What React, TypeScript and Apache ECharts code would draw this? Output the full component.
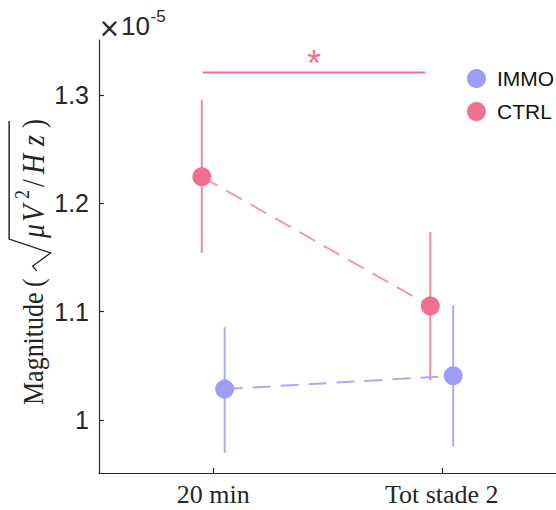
import React, { useEffect, useRef } from "react";
import * as echarts from "echarts";

const categories = ["20 min", "Tot stade 2"];
const categoryPositions = [1, 2];
const groupOffset = 0.05;
const yTickValues = [1, 1.1, 1.2, 1.3];
const yExponent = "-5";

const immoMean = [1.0285, 1.0408];
const immoLow = [0.9697, 0.9753];
const immoHigh = [1.0858, 1.1061];

const ctrlMean = [1.2246, 1.1052];
const ctrlLow = [1.1544, 1.0368];
const ctrlHigh = [1.2954, 1.1738];

const sigFrom = [0.954];
const sigTo = [1.927];
const sigLevel = [1.321];
const sigMark = ["*"];

const INK = "#262626";
const CTRL_MARK = "#F2708F";
const CTRL_ERR = "#F3889F";
const CTRL_DASH = "#F597AE";
const IMMO_MARK = "#9D9DF5";
const IMMO_ERR = "#ABABF6";
const IMMO_DASH = "#ABABF6";
const SERIF = "Liberation Serif";
const SANS = "Liberation Sans";

function errorBar(color: string) {
  return (_params: any, api: any) => {
    const top = api.coord([api.value(0), api.value(2)]);
    const bot = api.coord([api.value(0), api.value(1)]);
    return {
      type: "line",
      shape: { x1: top[0], y1: top[1], x2: bot[0], y2: bot[1] },
      style: { stroke: color, lineWidth: 2 },
    };
  };
}

function txt(text: string, x: number, y: number, size: number, family: string, italic = false, color = INK, align = "left") {
  return {
    type: "text",
    x,
    y,
    style: {
      text,
      fontSize: size,
      fontFamily: family,
      fontStyle: italic ? "italic" : "normal",
      fill: color,
      align,
      verticalAlign: "middle",
      textAlign: align,
      textVerticalAlign: "middle",
    },
  };
}

export default function App() {
  const ref = useRef<HTMLDivElement>(null);
  useEffect(() => {
    const chart = echarts.init(ref.current!, null, { renderer: "svg" });
    const immoPts = categoryPositions.map((c, i) => [c + groupOffset, immoMean[i]]);
    const ctrlPts = categoryPositions.map((c, i) => [c - groupOffset, ctrlMean[i]]);
    const immoErr = categoryPositions.map((c, i) => [c + groupOffset, immoLow[i], immoHigh[i]]);
    const ctrlErr = categoryPositions.map((c, i) => [c - groupOffset, ctrlLow[i], ctrlHigh[i]]);
    const sigData = sigFrom.map((f, i) => [f, sigTo[i], sigLevel[i]]);

    const option: any = {
      animation: false,
      backgroundColor: "#ffffff",
      grid: { left: 99, top: 40, right: 0, bottom: 37 },
      xAxis: {
        type: "value",
        min: 0.5,
        max: 2.5,
        axisLine: { show: true, onZero: false, lineStyle: { color: INK, width: 1.2 } },
        axisTick: {
          show: true,
          inside: true,
          length: 5,
          customValues: categoryPositions,
          lineStyle: { color: INK, width: 1.2 },
        },
        axisLabel: {
          customValues: categoryPositions,
          formatter: (v: number) => {
            const idx = categoryPositions.indexOf(Math.round(v));
            return idx >= 0 ? categories[idx] : "";
          },
          fontFamily: SERIF,
          fontSize: 26,
          color: INK,
          margin: 8,
        },
        splitLine: { show: false },
      },
      yAxis: {
        type: "value",
        min: 0.951,
        max: 1.351,
        axisLine: { show: true, onZero: false, lineStyle: { color: INK, width: 1.2 } },
        axisTick: {
          show: true,
          inside: true,
          length: 5,
          customValues: yTickValues,
          lineStyle: { color: INK, width: 1.2 },
        },
        axisLabel: {
          customValues: yTickValues,
          formatter: (v: number) => String(+v.toFixed(1)),
          fontFamily: SANS,
          fontSize: 25,
          color: INK,
          margin: 10,
        },
        splitLine: { show: false },
      },
      legend: {
        data: [
          { name: "IMMO", icon: "circle" },
          { name: "CTRL", icon: "circle" },
        ],
        orient: "vertical",
        left: 467,
        top: 68,
        padding: 0,
        itemWidth: 19,
        itemHeight: 19,
        itemGap: 12,
        textStyle: { fontFamily: SANS, fontSize: 21, color: "#111", padding: [0, 0, 0, 6] },
      },
      series: [
        {
          name: "CTRL_err",
          type: "custom",
          data: ctrlErr,
          encode: { x: 0, y: [1, 2] },
          renderItem: errorBar(CTRL_ERR),
          z: 1,
          silent: true,
        },
        {
          name: "IMMO_err",
          type: "custom",
          data: immoErr,
          encode: { x: 0, y: [1, 2] },
          renderItem: errorBar(IMMO_ERR),
          z: 1,
          silent: true,
        },
        {
          name: "IMMO",
          type: "line",
          data: immoPts,
          symbol: "circle",
          symbolSize: 19,
          itemStyle: { color: IMMO_MARK },
          lineStyle: { color: IMMO_DASH, width: 2, type: [18, 10] },
          z: 3,
        },
        {
          name: "CTRL",
          type: "line",
          data: ctrlPts,
          symbol: "circle",
          symbolSize: 19,
          itemStyle: { color: CTRL_MARK },
          lineStyle: { color: CTRL_DASH, width: 2, type: [18, 10] },
          z: 3,
        },
        {
          name: "significance",
          type: "custom",
          data: sigData,
          encode: { x: [0, 1], y: 2 },
          silent: true,
          renderItem: (params: any, api: any) => {
            const a = api.coord([api.value(0), api.value(2)]);
            const b = api.coord([api.value(1), api.value(2)]);
            return {
              type: "group",
              children: [
                {
                  type: "line",
                  shape: { x1: a[0], y1: a[1], x2: b[0], y2: b[1] },
                  style: { stroke: CTRL_MARK, lineWidth: 2 },
                },
                {
                  type: "text",
                  x: (a[0] + b[0]) / 2,
                  y: a[1] - 9,
                  style: {
                    text: sigMark[params.dataIndex],
                    fontSize: 36,
                    fontFamily: SANS,
                    fill: CTRL_MARK,
                    align: "center",
                    verticalAlign: "middle",
                  },
                },
              ],
            };
          },
        },
      ],
      graphic: [
        {
          type: "group",
          x: 31,
          y: 405,
          rotation: Math.PI / 2,
          scaleY: 1.15,
          children: [
            txt("Magnitude", 0, 2, 26, SERIF),
            txt("(", 118, 2, 26, SERIF),
            {
              type: "polyline",
              shape: { points: [[134, 5], [139, 1.5], [152, 17], [166, -19], [284, -19]] },
              style: { stroke: INK, lineWidth: 1.3, fill: null },
            },
            txt("μ", 167, 2, 28, SERIF, true),
            txt("V", 183, 2, 28, SERIF, true),
            txt("2", 206, -8, 18, SERIF),
            txt("/", 218, 2, 28, SERIF),
            txt("H", 231, 2, 28, SERIF, true),
            txt("z", 259, 2, 28, SERIF, true),
            txt(")", 277, 2, 27, SERIF),
          ],
        },
        txt("×", 109.5, 28, 26, "DejaVu Sans", false, INK, "center"),
        txt("10", 121, 26, 26, SANS),
        txt(yExponent, 150.5, 16, 17, SANS),
      ],
    };
    chart.setOption(option);
    return () => chart.dispose();
  }, []);
  return (
    <div
      ref={ref}
      style={{ position: "fixed", left: 0, top: 0, width: 556, height: 510, background: "#fff" }}
    />
  );
}
